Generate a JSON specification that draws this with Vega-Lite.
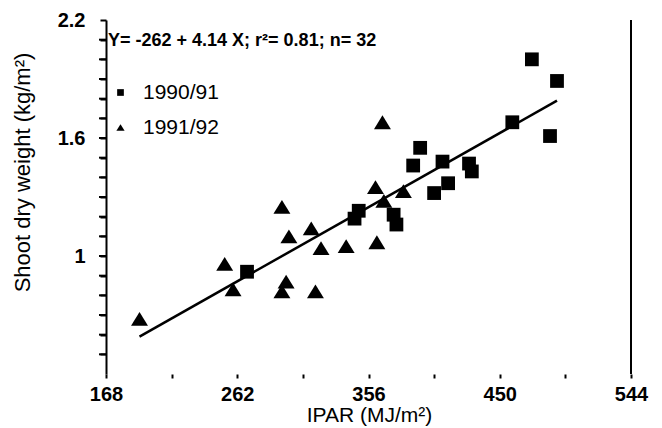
{
  "$schema": "https://vega.github.io/schema/vega-lite/v6.json",
  "width": 525,
  "height": 354,
  "autosize": {"type": "none"},
  "padding": {"left": 106, "top": 20, "right": 31, "bottom": 54},
  "background": "white",
  "config": {
    "view": {"stroke": null},
    "font": "Liberation Sans"
  },
  "datasets": {
    "points": [
      {"ipar": 269, "weight": 0.92, "season": "1990/91"},
      {"ipar": 349, "weight": 1.23, "season": "1990/91"},
      {"ipar": 346, "weight": 1.19, "season": "1990/91"},
      {"ipar": 374, "weight": 1.21, "season": "1990/91"},
      {"ipar": 376, "weight": 1.16, "season": "1990/91"},
      {"ipar": 393, "weight": 1.55, "season": "1990/91"},
      {"ipar": 388, "weight": 1.46, "season": "1990/91"},
      {"ipar": 409, "weight": 1.48, "season": "1990/91"},
      {"ipar": 413, "weight": 1.37, "season": "1990/91"},
      {"ipar": 403, "weight": 1.32, "season": "1990/91"},
      {"ipar": 428, "weight": 1.47, "season": "1990/91"},
      {"ipar": 430, "weight": 1.43, "season": "1990/91"},
      {"ipar": 459, "weight": 1.68, "season": "1990/91"},
      {"ipar": 473, "weight": 2.0, "season": "1990/91"},
      {"ipar": 491, "weight": 1.89, "season": "1990/91"},
      {"ipar": 486, "weight": 1.61, "season": "1990/91"},
      {"ipar": 192, "weight": 0.68, "season": "1991/92"},
      {"ipar": 253, "weight": 0.96, "season": "1991/92"},
      {"ipar": 259, "weight": 0.83, "season": "1991/92"},
      {"ipar": 294, "weight": 1.25, "season": "1991/92"},
      {"ipar": 299, "weight": 1.1, "season": "1991/92"},
      {"ipar": 297, "weight": 0.87, "season": "1991/92"},
      {"ipar": 294, "weight": 0.82, "season": "1991/92"},
      {"ipar": 315, "weight": 1.14, "season": "1991/92"},
      {"ipar": 322, "weight": 1.04, "season": "1991/92"},
      {"ipar": 318, "weight": 0.82, "season": "1991/92"},
      {"ipar": 340, "weight": 1.05, "season": "1991/92"},
      {"ipar": 362, "weight": 1.07, "season": "1991/92"},
      {"ipar": 361, "weight": 1.35, "season": "1991/92"},
      {"ipar": 367, "weight": 1.28, "season": "1991/92"},
      {"ipar": 366, "weight": 1.68, "season": "1991/92"},
      {"ipar": 381, "weight": 1.33, "season": "1991/92"}
    ],
    "fit": [
      {"ipar": 192, "weight": 0.59},
      {"ipar": 491, "weight": 1.79}
    ],
    "frame": [
      {"ipar": 544, "weight": 0.4, "weight2": 2.2}
    ],
    "yticks": [
      {"ipar": 168, "weight": 0.5},
      {"ipar": 168, "weight": 0.6},
      {"ipar": 168, "weight": 0.7},
      {"ipar": 168, "weight": 0.8},
      {"ipar": 168, "weight": 0.9},
      {"ipar": 168, "weight": 1.0},
      {"ipar": 168, "weight": 1.1},
      {"ipar": 168, "weight": 1.2},
      {"ipar": 168, "weight": 1.3},
      {"ipar": 168, "weight": 1.4},
      {"ipar": 168, "weight": 1.5},
      {"ipar": 168, "weight": 1.6},
      {"ipar": 168, "weight": 1.7},
      {"ipar": 168, "weight": 1.8},
      {"ipar": 168, "weight": 1.9},
      {"ipar": 168, "weight": 2.0},
      {"ipar": 168, "weight": 2.1}
    ],
    "note": [
      {"ipar": 168, "weight": 2.095, "label": "Y= -262 + 4.14 X; r²= 0.81; n= 32"}
    ]
  },
  "layer": [
    {
      "data": {"name": "points"},
      "mark": {"type": "point", "filled": true, "opacity": 1, "color": "black", "size": 190},
      "encoding": {
        "x": {
          "field": "ipar",
          "type": "quantitative",
          "scale": {"domain": [168, 544], "nice": false, "zero": false},
          "axis": {
            "title": "IPAR (MJ/m²)",
            "values": [168, 215, 262, 309, 356, 403, 450, 497, 544],
            "tickCount": 20,
            "labelExpr": "(datum.value == 168 || datum.value == 262 || datum.value == 356 || datum.value == 450 || datum.value == 544) ? datum.label : ''",
            "domain": false,
            "grid": false,
            "ticks": true,
            "tickSize": 4,
            "tickWidth": 2,
            "tickColor": "black",
            "labelFontSize": 20,
            "labelFontWeight": "bold",
            "labelColor": "black",
            "labelPadding": 6,
            "labelFlush": false,
            "labelOverlap": false,
            "titleFontSize": 21,
            "titleFontWeight": "normal",
            "titleColor": "black",
            "titleX": 263,
            "titleY": 41,
            "titleBaseline": "middle",
            "titleAlign": "center"
          }
        },
        "y": {
          "field": "weight",
          "type": "quantitative",
          "scale": {"domain": [0.4, 2.2], "nice": false, "zero": false},
          "axis": {
            "title": "Shoot dry weight (kg/m²)",
            "values": [0.5, 0.6, 0.7, 0.8, 0.9, 1.0, 1.1, 1.2, 1.3, 1.4, 1.5, 1.6, 1.7, 1.8, 1.9, 2.0, 2.1, 2.2],
            "tickCount": 30,
            "labelExpr": "datum.value == 1 ? '1' : (datum.value == 1.6 ? '1.6' : (datum.value == 2.2 ? '2.2' : ''))",
            "domain": true,
            "domainColor": "black",
            "domainWidth": 2,
            "grid": false,
            "ticks": true,
            "tickSize": 6,
            "tickWidth": 2,
            "tickColor": "black",
            "labelFontSize": 20,
            "labelFontWeight": "bold",
            "labelColor": "black",
            "labelPadding": 15,
            "labelOverlap": false,
            "labelBound": false,
            "titleFontSize": 22,
            "titleFontWeight": "normal",
            "titleColor": "black",
            "titleAngle": -90,
            "titleX": -84,
            "titleY": 152,
            "titleAlign": "center",
            "titleBaseline": "middle"
          }
        },
        "shape": {
          "field": "season",
          "type": "nominal",
          "scale": {
            "domain": ["1990/91", "1991/92"],
            "range": ["square", "M-1.23,1L0,-1L1.23,1Z"]
          },
          "legend": {
            "title": null,
            "orient": "none",
            "legendX": 4,
            "legendY": 62,
            "padding": 0,
            "symbolSize": 45,
            "symbolFillColor": "black",
            "symbolStrokeColor": "black",
            "symbolStrokeWidth": 0,
            "labelFontSize": 21,
            "labelColor": "black",
            "labelOffset": 12,
            "rowPadding": 13
          }
        }
      }
    },
    {
      "data": {"name": "yticks"},
      "mark": {"type": "tick", "orient": "horizontal", "size": 7, "thickness": 2, "xOffset": -3.5, "color": "black", "opacity": 1},
      "encoding": {
        "x": {"field": "ipar", "type": "quantitative"},
        "y": {"field": "weight", "type": "quantitative"}
      }
    },
    {
      "data": {"name": "fit"},
      "mark": {"type": "line", "color": "black", "strokeWidth": 2.5},
      "encoding": {
        "x": {"field": "ipar", "type": "quantitative"},
        "y": {"field": "weight", "type": "quantitative"}
      }
    },
    {
      "data": {"name": "frame"},
      "mark": {"type": "rule", "color": "black", "strokeWidth": 2},
      "encoding": {
        "x": {"field": "ipar", "type": "quantitative"},
        "y": {"field": "weight", "type": "quantitative"},
        "y2": {"field": "weight2"}
      }
    },
    {
      "data": {"name": "note"},
      "mark": {"type": "text", "align": "left", "baseline": "middle", "dx": 2, "fontSize": 18, "fontWeight": "bold", "color": "black"},
      "encoding": {
        "x": {"field": "ipar", "type": "quantitative"},
        "y": {"field": "weight", "type": "quantitative"},
        "text": {"field": "label"}
      }
    }
  ]
}
